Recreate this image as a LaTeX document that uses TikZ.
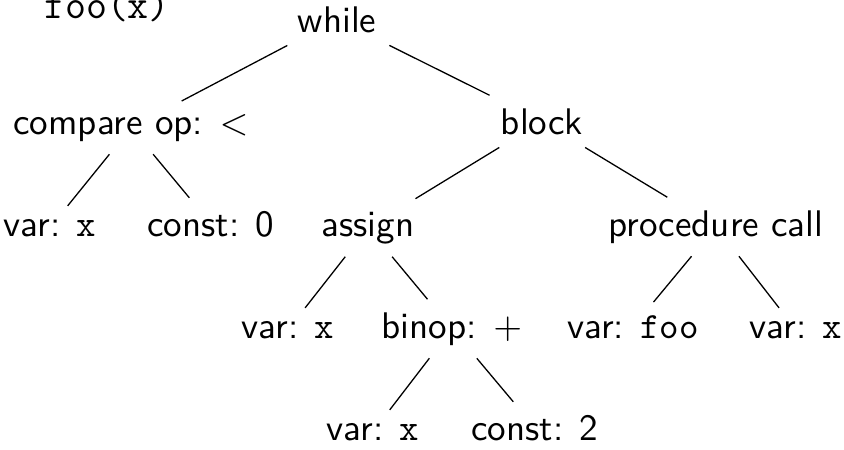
\documentclass[tikz,border=0pt]{standalone}
\begin{document}
\begin{tikzpicture}[x=0.27pt,y=-0.27pt,
  tn/.style={anchor=base,font=\sffamily,inner sep=3.33pt},
  edge/.style={draw,line width=0.35pt}]
\useasboundingbox (0,0) rectangle (844,449);
\node[anchor=base,inner sep=0pt,font=\fontsize{11}{13}\selectfont\ttfamily] (code) at (107,18) {foo(x)};
\node[tn] (while) at (337,32) {while};
\node[tn] (cmp) at (131,134) {compare op: $<$};
\node[tn] (block) at (542,134) {block};
\node[tn] (v1) at (50,236) {var: \texttt{x}};
\node[tn] (c0) at (211,236) {const: 0};
\node[tn] (assign) at (368,236) {assign};
\node[tn] (pcall) at (716,236) {procedure call};
\node[tn] (v2) at (288,338) {var: \texttt{x}};
\node[tn] (binop) at (452,338) {binop: $+$};
\node[tn] (vfoo) at (633,338) {var: \texttt{foo}};
\node[tn] (v3) at (796,338) {var: \texttt{x}};
\node[tn] (v4) at (373,440) {var: \texttt{x}};
\node[tn] (c2) at (535,440) {const: 2};
\draw[edge] (while) -- (cmp);
\draw[edge] (while) -- (block);
\draw[edge] (cmp) -- (v1);
\draw[edge] (cmp) -- (c0);
\draw[edge] (block) -- (assign);
\draw[edge] (block) -- (pcall);
\draw[edge] (assign) -- (v2);
\draw[edge] (assign) -- (binop);
\draw[edge] (pcall) -- (vfoo);
\draw[edge] (pcall) -- (v3);
\draw[edge] (binop) -- (v4);
\draw[edge] (binop) -- (c2);
\end{tikzpicture}
\end{document}
